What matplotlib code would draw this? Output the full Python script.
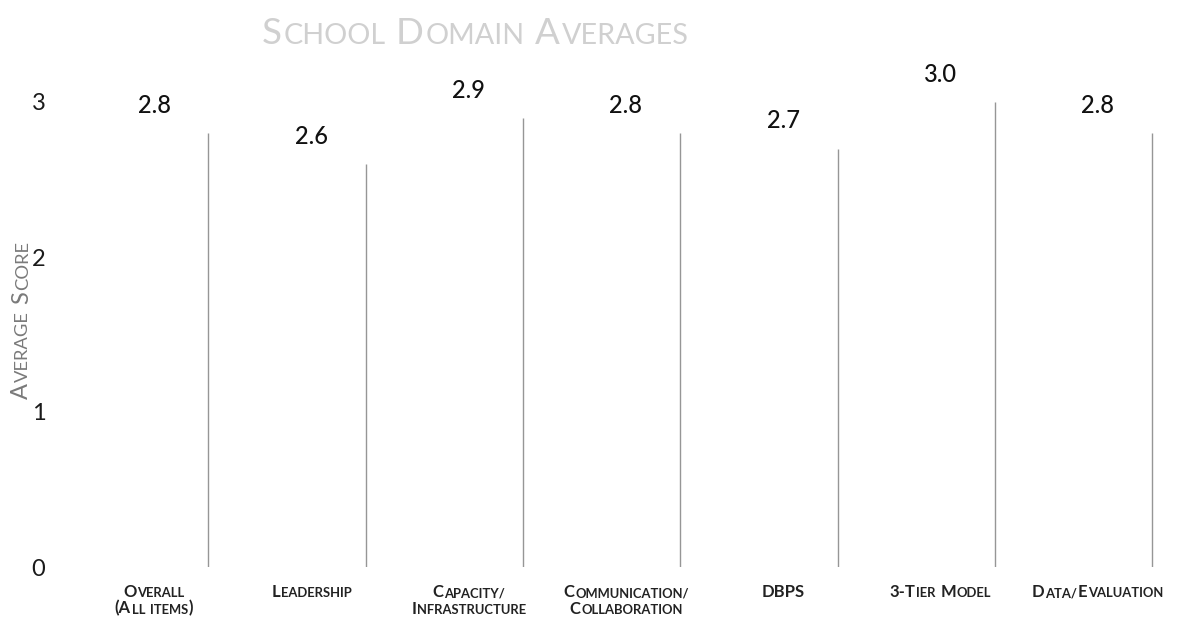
import matplotlib
matplotlib.use('Agg')
import matplotlib.pyplot as plt
import numpy as np

# ---- data ----
categories = ['Overall\n(All items)', 'Leadership', 'Capacity/\nInfrastructure',
              'Communication/\nCollaboration', 'DBPS', '3-Tier Model', 'Data/Evaluation']
scores = [2.8, 2.6, 2.9, 2.8, 2.7, 3.0, 2.8]
y_ticks = [0, 1, 2, 3]
title_text = 'School Domain Averages'
y_label_text = 'Average Score'

W, H, DPI = 1180, 624, 100
plt.rcParams['font.family'] = ['Lato', 'DejaVu Sans']

fig = plt.figure(figsize=(W / DPI, H / DPI), dpi=DPI)
fig.patch.set_facecolor('white')

ax_left, ax_right, ax_top, ax_bottom = 75.4, 1176.5, 102, 567
ax = fig.add_axes([ax_left / W, (H - ax_bottom) / H,
                   (ax_right - ax_left) / W, (ax_bottom - ax_top) / H])

x = np.arange(len(categories))
bar_w = 0.69
ax.bar(x, scores, width=bar_w, color='white', edgecolor='none', zorder=1)
ax.vlines(x + bar_w / 2, 0, scores, color='#969696', lw=1.0, zorder=2)

for xi, v in zip(x, scores):
    ax.annotate(f'{v:.1f}', xy=(xi, v), xytext=(0, 14.4), textcoords='offset points',
                ha='center', va='baseline', fontsize=17, color='#111111',
                fontweight=500, annotation_clip=False)

ax.set_xlim(-0.5, len(categories) - 0.5)
ax.set_ylim(0, 3)
ax.set_yticks(y_ticks)
ax.set_yticklabels([str(t) for t in y_ticks], fontsize=17, color='#1a1a1a')
ax.tick_params(axis='y', length=0, pad=21.6)
ax.set_xticks([])
for s in ax.spines.values():
    s.set_visible(False)

renderer = fig.canvas.get_renderer()


def small_caps(text, x_px, y_px, size, color, weight='normal', rotation=0, ratio=0.78):
    """Draw text in small caps, centred on x_px (horizontal) or y_px (rotated).
    y_px / x_px give the baseline position (pixels from top-left)."""
    pieces = []
    space = False
    for ch in text:
        if ch == ' ':
            space = True
            continue
        if ch.isalpha():
            small = ch.islower()
        elif ch in '()':
            small = False
        else:
            small = pieces[-1][1] if pieces else False
        if pieces and pieces[-1][1] == small and not space:
            pieces[-1][0] += ch.upper()
        else:
            pieces.append([ch.upper(), small, space])
        space = False
    kw = dict(color=color, fontweight=weight, rotation=rotation,
              rotation_mode='anchor', ha='left', va='baseline')
    fx, fy = x_px / W, 1 - y_px / H
    first = fig.text(fx, fy, pieces[0][0],
                     fontsize=size * (ratio if pieces[0][1] else 1), **kw)
    arts = [first]
    prev = first
    for s, small, sp in pieces[1:]:
        fs = size * (ratio if small else 1)
        gap = 0.045 * size + (0.24 * size if sp else 0)
        if rotation == 0:
            a = ax.annotate(s, xy=(1, fy), xycoords=(prev, 'figure fraction'),
                            xytext=(gap, 0), textcoords='offset points',
                            fontsize=fs, annotation_clip=False, **kw)
        else:
            a = ax.annotate(s, xy=(fx, 1), xycoords=('figure fraction', prev),
                            xytext=(0, gap), textcoords='offset points',
                            fontsize=fs, annotation_clip=False, **kw)
        arts.append(a)
        prev = a
    bbs = [a.get_window_extent(renderer) for a in arts]
    x0 = min(b.x0 for b in bbs); x1 = max(b.x1 for b in bbs)
    y0 = min(b.y0 for b in bbs); y1 = max(b.y1 for b in bbs)
    if rotation == 0:
        first.set_x(fx - (x1 - x0) / 2 / W)
    else:
        first.set_y(fy - (y1 - y0) / 2 / H)
    return arts


# category labels (small caps, centred under each bar)
for xi, lab in zip(x, categories):
    cx = ax.transData.transform((xi, 0))[0]
    for k, line in enumerate(lab.split('\n')):
        small_caps(line, cx, 597 + 16.5 * k, 12, '#222222', weight='bold')

# title
small_caps(title_text, 475, 44, 26.5, '#d0d0d0')

# y label
small_caps(y_label_text, 28, 320, 17, '#7a7a7a', rotation=90)

fig.savefig('out.png', dpi=DPI, facecolor='white')
